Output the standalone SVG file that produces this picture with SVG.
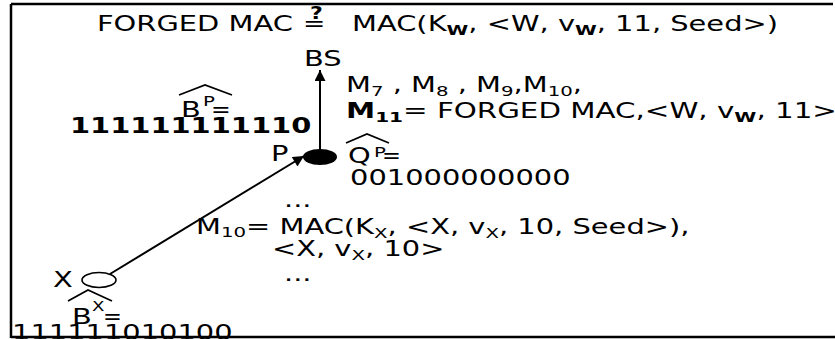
<svg xmlns="http://www.w3.org/2000/svg" width="835" height="339" viewBox="0 0 835 339">
<style>
.t{font-family:"DejaVu Sans",sans-serif;font-size:20.5px;fill:#000}
.b{font-weight:bold}
.s{font-size:14px}
.hat{fill:none;stroke:#000;stroke-width:1.8}
.edge{stroke:#000;stroke-width:2;fill:none}
</style>
<defs>
<marker id="ah" viewBox="0 0 10 10" refX="10" refY="5" markerWidth="12" markerHeight="11" markerUnits="userSpaceOnUse" orient="auto"><path d="M0,0 L10,5 L0,10 z" fill="#000"/></marker>
</defs>
<rect width="835" height="339" fill="#fff"/>

<g id="title">
<text class="t" transform="translate(97,31) scale(1.41,1)">FORGED MAC</text>
<text class="t" transform="translate(303,31) scale(1.3,1)">=</text>
<text class="t b" style="font-size:17px" transform="translate(310,19) scale(1.3,1)">?</text>
<text class="t" transform="translate(352,31) scale(1.41,1)">MAC(K<tspan class="s b" dy="4">W</tspan><tspan dy="-4">, &lt;W, v</tspan><tspan class="s b" dy="4">W</tspan><tspan dy="-4">, 11, Seed&gt;)</tspan></text>
</g>

<g id="edges">
<line class="edge" x1="320" y1="150" x2="320" y2="70" marker-end="url(#ah)"/>
<line class="edge" x1="110" y1="274" x2="304" y2="156" marker-end="url(#ah)"/>
</g>

<g id="node-BS">
<text class="t" transform="translate(304,66) scale(1.41,1)">BS</text>
</g>

<g id="label-BS">
<text class="t" transform="translate(346,92) scale(1.41,1)">M<tspan class="s" dy="4">7</tspan><tspan dy="-4"> , M</tspan><tspan class="s" dy="4">8</tspan><tspan dy="-4"> , M</tspan><tspan class="s" dy="4">9</tspan><tspan dy="-4">,M</tspan><tspan class="s" dy="4">10</tspan><tspan dy="-4">,</tspan></text>
<text class="t" transform="translate(346,118) scale(1.43,1)"><tspan class="b">M</tspan><tspan class="s b" dy="4">11</tspan><tspan dy="-4">= FORGED MAC,&lt;W, v</tspan><tspan class="s b" dy="4">W</tspan><tspan dy="-4">, 11&gt;</tspan></text>
</g>

<g id="node-P">
<ellipse cx="320" cy="157" rx="17" ry="8" fill="#000"/>
<text class="t" transform="translate(271,161) scale(1.41,1)">P</text>
<path class="hat" d="M179,95 L205,85 L232,95"/>
<text class="t" transform="translate(181,117) scale(1.41,1)">B</text>
<text class="t s" transform="translate(203,106) scale(1.41,1)">P</text>
<text class="t" transform="translate(211,117) scale(1.15,1)">=</text>
<text class="t b" transform="translate(70,133) scale(1.41,1)">111111111110</text>
<path class="hat" d="M346,143 L367,134 L389,143"/>
<text class="t" transform="translate(348,163) scale(1.41,1)">Q</text>
<text class="t s" transform="translate(374,157) scale(1.41,1)">P</text>
<text class="t" transform="translate(382,163) scale(1.1,1)">=</text>
<text class="t" transform="translate(350,185) scale(1.41,1)">001000000000</text>
</g>

<g id="label-X-P">
<text class="t" transform="translate(284,207) scale(1.41,1)">...</text>
<text class="t" transform="translate(196,234) scale(1.41,1)">M<tspan class="s" dy="3">10</tspan><tspan dy="-3">= MAC(K</tspan><tspan class="s" dy="4">X</tspan><tspan dy="-4">, &lt;X, v</tspan><tspan class="s" dy="4">X</tspan><tspan dy="-4">, 10, Seed&gt;),</tspan></text>
<text class="t" transform="translate(272,256) scale(1.41,1)">&lt;X, v<tspan class="s" dy="4">X</tspan><tspan dy="-4">, 10&gt;</tspan></text>
<text class="t" transform="translate(284,281) scale(1.41,1)">...</text>
</g>

<g id="node-X">
<ellipse cx="99" cy="280" rx="17" ry="7.5" fill="#fff" stroke="#000" stroke-width="1.6"/>
<text class="t" transform="translate(53,287) scale(1.41,1)">X</text>
<path class="hat" d="M68,301 L88,290 L112,301"/>
<text class="t" transform="translate(72,324) scale(1.41,1)">B</text>
<text class="t s" transform="translate(92,311) scale(1.3,1)">X</text>
<text class="t" transform="translate(103,324) scale(1.1,1)">=</text>
<text class="t" transform="translate(12,340) scale(1.41,1)">111111010100</text>
</g>

<path d="M11,4 H833 M11,4 V338 M11,337 H835" fill="none" stroke="#000" stroke-width="2.5"/>
</svg>
